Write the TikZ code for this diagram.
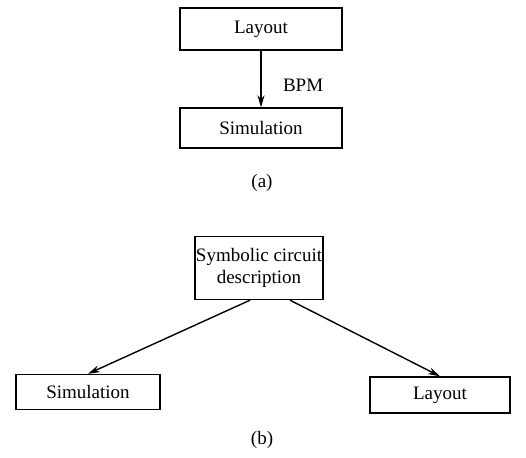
\documentclass[tikz,border=0pt]{standalone}
\usepackage{fontspec}
\setmainfont{Liberation Serif}
\usetikzlibrary{arrows.meta}
\begin{document}
\begin{tikzpicture}[x=1pt,y=-1pt,
    box/.style={draw, line width=1.4pt, inner sep=0pt},
    flow/.style={-{Stealth[length=12pt,width=7pt]}, line width=1.4pt},
    font=\fontsize{19}{22}\selectfont]
    \useasboundingbox (0,0) rectangle (526,457);
    % (a)
    \node[box, minimum width=162, minimum height=42] (lay) at (261,29) {Layout};
    \node[box, minimum width=162, minimum height=40] (sim) at (261,128) {Simulation};
    \draw[flow] (lay) -- (sim) node[pos=0.62, right=18pt] {BPM};
    \node (capa) at (262,183) {(a)};
    % (b)
    \node[box, align=center, minimum width=128, minimum height=63] (sym) at (259,268) {Symbolic circuit\\description};
    \node[box, minimum width=144, minimum height=35] (sim2) at (88,392) {Simulation};
    \node[box, minimum width=140, minimum height=36] (lay2) at (440,395) {Layout};
    \draw[flow] ([xshift=-9pt]sym.south) -- (sim2.north);
    \draw[flow] ([xshift=31pt]sym.south) -- (lay2.north);
    \node (capb) at (262,440) {(b)};
\end{tikzpicture}
\end{document}
